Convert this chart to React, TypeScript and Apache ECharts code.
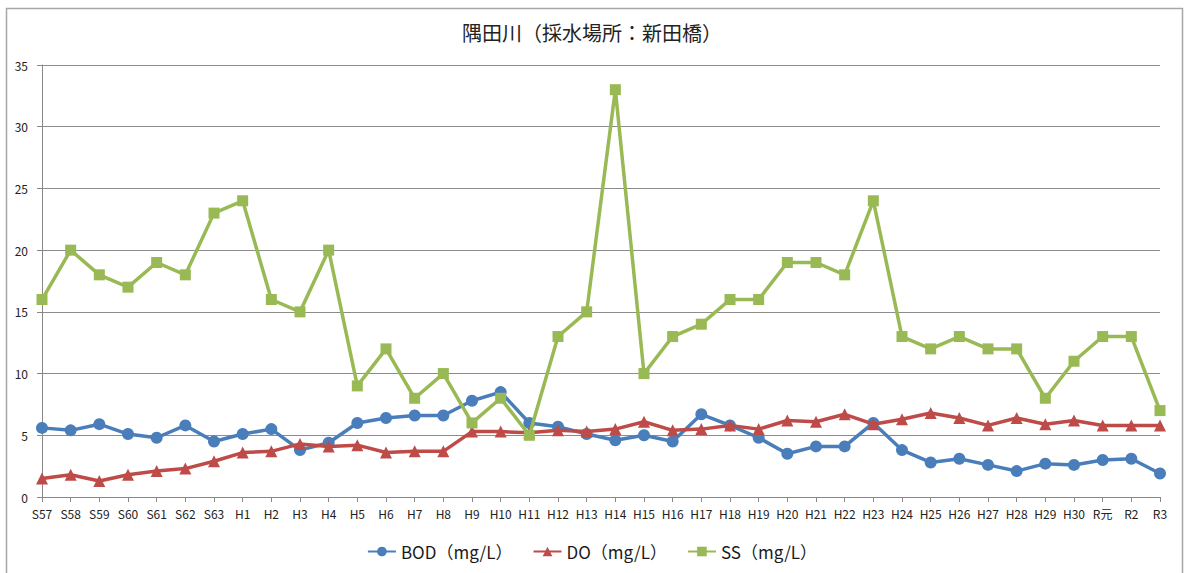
import React, { useEffect, useRef } from "react";
import * as echarts from "echarts";

const categories = [
  "S57", "S58", "S59", "S60", "S61", "S62", "S63",
  "H1", "H2", "H3", "H4", "H5", "H6", "H7", "H8", "H9", "H10",
  "H11", "H12", "H13", "H14", "H15", "H16", "H17", "H18", "H19", "H20",
  "H21", "H22", "H23", "H24", "H25", "H26", "H27", "H28", "H29", "H30",
  "R元", "R2", "R3",
];

const bod = [
  5.6, 5.4, 5.9, 5.1, 4.8, 5.8, 4.5,
  5.1, 5.5, 3.8, 4.4, 6.0, 6.4, 6.6, 6.6, 7.8, 8.5,
  6.0, 5.7, 5.1, 4.6, 5.0, 4.5, 6.7, 5.8, 4.8, 3.5,
  4.1, 4.1, 6.0, 3.8, 2.8, 3.1, 2.6, 2.1, 2.7, 2.6,
  3.0, 3.1, 1.9,
];

const dox = [
  1.5, 1.8, 1.3, 1.8, 2.1, 2.3, 2.9,
  3.6, 3.7, 4.3, 4.1, 4.2, 3.6, 3.7, 3.7, 5.3, 5.3,
  5.2, 5.4, 5.3, 5.5, 6.1, 5.4, 5.5, 5.8, 5.5, 6.2,
  6.1, 6.7, 5.9, 6.3, 6.8, 6.4, 5.8, 6.4, 5.9, 6.2,
  5.8, 5.8, 5.8,
];

const ss = [
  16, 20, 18, 17, 19, 18, 23,
  24, 16, 15, 20, 9, 12, 8, 10, 6, 8,
  5, 13, 15, 33, 10, 13, 14, 16, 16, 19,
  19, 18, 24, 13, 12, 13, 12, 12, 8, 11,
  13, 13, 7,
];

const yTicks = { min: 0, max: 35, interval: 5 };

const seriesNames = ["BOD（mg/L）", "DO（mg/L）", "SS（mg/L）"];
const colors = ["#4A7EBB", "#BE4B48", "#98B954"];

export default function App() {
  const ref = useRef<HTMLDivElement>(null);
  useEffect(() => {
    if (!ref.current) return;
    const chart = echarts.init(ref.current, null, { renderer: "svg" });
    const font = "'Noto Sans CJK JP', 'Noto Sans', sans-serif";
    chart.setOption({
      animation: false,
      backgroundColor: "#ffffff",
      textStyle: { fontFamily: font },
      title: {
        text: "隅田川（採水場所：新田橋）",
        left: "center",
        top: 17,
        textStyle: { fontSize: 20, fontWeight: "normal", color: "#222", fontFamily: font },
      },
      graphic: [
        {
          type: "rect",
          shape: { x: 6.5, y: 8.5, width: 1176, height: 600 },
          style: { fill: "none", stroke: "#a6a6a6", lineWidth: 1.5 },
          silent: true,
        },
      ],
      legend: {
        bottom: 8,
        left: "center",
        itemWidth: 28,
        itemHeight: 12,
        itemGap: 20,
        textStyle: { fontSize: 17, color: "#1a1a1a", fontFamily: font },
        data: seriesNames,
      },
      grid: { left: 42, right: 24, top: 65, bottom: 76, containLabel: false },
      xAxis: {
        type: "category",
        data: categories,
        boundaryGap: false,
        axisLine: { lineStyle: { color: "#888", width: 1 } },
        axisTick: { show: true, alignWithLabel: true, length: 5, lineStyle: { color: "#888" } },
        axisLabel: { fontSize: 12, color: "#222", margin: 10, interval: 0, fontFamily: font },
        splitLine: { show: false },
      },
      yAxis: {
        type: "value",
        min: yTicks.min,
        max: yTicks.max,
        interval: yTicks.interval,
        axisLine: { show: true, lineStyle: { color: "#888", width: 1 } },
        axisTick: { show: true, length: 5, lineStyle: { color: "#888" } },
        axisLabel: { fontSize: 12, color: "#222", margin: 14, fontFamily: font },
        splitLine: { show: true, lineStyle: { color: "#8c8c8c", width: 1 } },
      },
      series: [
        {
          name: seriesNames[0],
          type: "line",
          data: bod,
          symbol: "circle",
          symbolSize: 12,
          itemStyle: { color: colors[0] },
          lineStyle: { width: 3.5, color: colors[0] },
          z: 3,
        },
        {
          name: seriesNames[1],
          type: "line",
          data: dox,
          symbol: "triangle",
          symbolSize: 12,
          itemStyle: { color: colors[1] },
          lineStyle: { width: 3.5, color: colors[1] },
          z: 4,
        },
        {
          name: seriesNames[2],
          type: "line",
          data: ss,
          symbol: "rect",
          symbolSize: 11,
          itemStyle: { color: colors[2] },
          lineStyle: { width: 3.5, color: colors[2] },
          z: 5,
        },
      ],
    });
    return () => chart.dispose();
  }, []);
  return (
    <div
      ref={ref}
      style={{ position: "fixed", left: 0, top: 0, width: 1184, height: 573 }}
    />
  );
}
